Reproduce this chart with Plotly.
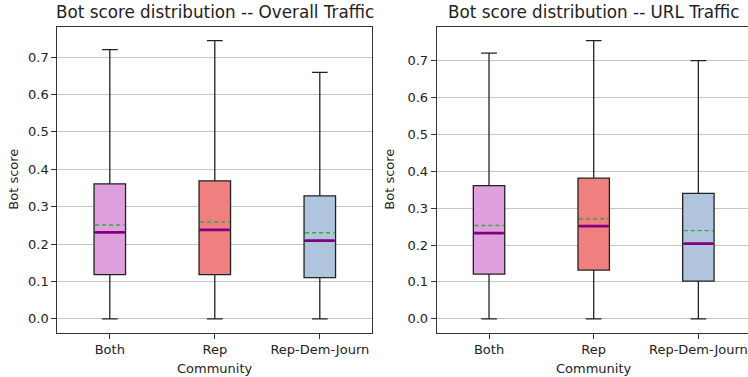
import plotly.graph_objects as go

categories = ["Both", "Rep", "Rep-Dem-Journ"]
box_colors = ["#dda0dd", "#f08080", "#b0c4de"]

overall_min = [0.0, 0.0, 0.0]
overall_q1 = [0.118, 0.118, 0.110]
overall_median = [0.231, 0.238, 0.209]
overall_mean = [0.251, 0.259, 0.230]
overall_q3 = [0.361, 0.369, 0.329]
overall_max = [0.720, 0.744, 0.659]

url_min = [0.0, 0.0, 0.0]
url_q1 = [0.121, 0.132, 0.102]
url_median = [0.232, 0.251, 0.204]
url_mean = [0.253, 0.271, 0.239]
url_q3 = [0.361, 0.381, 0.340]
url_max = [0.720, 0.754, 0.700]

titles = ["Bot score distribution -- Overall Traffic", "Bot score distribution -- URL Traffic"]
y_ticks = [0.0, 0.1, 0.2, 0.3, 0.4, 0.5, 0.6, 0.7]

W, H = 748, 377
BOX_W = 0.3
FONT = "DejaVu Sans"
positions = [1, 2, 3]

fig = go.Figure()

panels = [
    (overall_min, overall_q1, overall_median, overall_mean, overall_q3, overall_max, "x", "y"),
    (url_min, url_q1, url_median, url_mean, url_q3, url_max, "x2", "y2"),
]

for (mn, q1, med, mean, q3, mx, xa, ya) in panels:
    for i, cat in enumerate(categories):
        fig.add_trace(go.Box(
            x=[positions[i]], q1=[q1[i]], median=[med[i]], q3=[q3[i]],
            lowerfence=[mn[i]], upperfence=[mx[i]],
            orientation="v", width=BOX_W, whiskerwidth=0.5,
            fillcolor=box_colors[i], line=dict(color="#222222", width=1.3),
            boxpoints=False, showlegend=False, hoverinfo="skip",
            xaxis=xa, yaxis=ya,
        ))
    mx_x, mx_y, md_x, md_y = [], [], [], []
    for i in range(len(categories)):
        p = positions[i]
        md_x += [p - BOX_W / 2 + 0.01, p + BOX_W / 2 - 0.01, None]
        md_y += [med[i], med[i], None]
        mx_x += [p - BOX_W / 2 + 0.01, p + BOX_W / 2 - 0.01, None]
        mx_y += [mean[i], mean[i], None]
    fig.add_trace(go.Scatter(x=md_x, y=md_y, mode="lines",
                             line=dict(color="#800080", width=2.8),
                             showlegend=False, hoverinfo="skip", xaxis=xa, yaxis=ya))
    fig.add_trace(go.Scatter(x=mx_x, y=mx_y, mode="lines",
                             line=dict(color="#3aa83a", width=1.4, dash="4px,3px"),
                             showlegend=False, hoverinfo="skip", xaxis=xa, yaxis=ya))

def yrange(mn, mx):
    lo, hi = min(mn), max(mx)
    s = hi - lo
    return [lo - 0.05 * s, hi + 0.05 * s]

y_dom = [(377 - 332.7) / H, (377 - 26.7) / H]
x1_dom = [57.3 / W, 372.3 / W]
x2_left = 436.7
x2_dom = [x2_left / W, 1.0]
x2_range = [0.5, 0.5 + 3.0 * (W - x2_left) / 314.0]

axis_common = dict(
    showline=True, linecolor="#333333", linewidth=1,
    ticks="outside", ticklen=5, tickcolor="#333333", tickwidth=1,
    tickfont=dict(family=FONT, size=13, color="#222222"),
    zeroline=False,
)

fig.update_layout(
    width=W, height=H, margin=dict(l=0, r=0, t=0, b=0),
    paper_bgcolor="white", plot_bgcolor="white",
    showlegend=False,
    xaxis=dict(domain=x1_dom, range=[0.5, 3.5], tickvals=positions, ticktext=categories,
               showgrid=False, mirror=True, anchor="y", **axis_common),
    yaxis=dict(domain=y_dom, range=yrange(overall_min, overall_max), tickvals=y_ticks,
               tickformat=".1f", showgrid=True, gridcolor="#c4c4c4", gridwidth=1,
               mirror=True, anchor="x", **axis_common),
    xaxis2=dict(domain=x2_dom, range=x2_range, tickvals=positions, ticktext=categories,
                showgrid=False, mirror=True, anchor="y2", **axis_common),
    yaxis2=dict(domain=y_dom, range=yrange(url_min, url_max), tickvals=y_ticks,
                tickformat=".1f", showgrid=True, gridcolor="#c4c4c4", gridwidth=1,
                mirror=False, anchor="x2", **axis_common),
)

centers = [(x1_dom[0] + x1_dom[1]) / 2, (x2_left + 157) / W]
for k in range(2):
    fig.add_annotation(text=titles[k], x=centers[k], y=(H - 12) / H, xref="paper", yref="paper",
                       xanchor="center", yanchor="middle", showarrow=False,
                       font=dict(family=FONT, size=16.8, color="#222222"))
    fig.add_annotation(text="Community", x=centers[k], y=(H - 368) / H, xref="paper", yref="paper",
                       xanchor="center", yanchor="middle", showarrow=False,
                       font=dict(family=FONT, size=13, color="#222222"))
ylab_x = [14 / W, 390 / W]
for k in range(2):
    fig.add_annotation(text="Bot score", x=ylab_x[k], y=(H - 179.7) / H, xref="paper", yref="paper",
                       xanchor="center", yanchor="middle", showarrow=False, textangle=-90,
                       font=dict(family=FONT, size=13, color="#222222"))

fig.write_html("out.html")
